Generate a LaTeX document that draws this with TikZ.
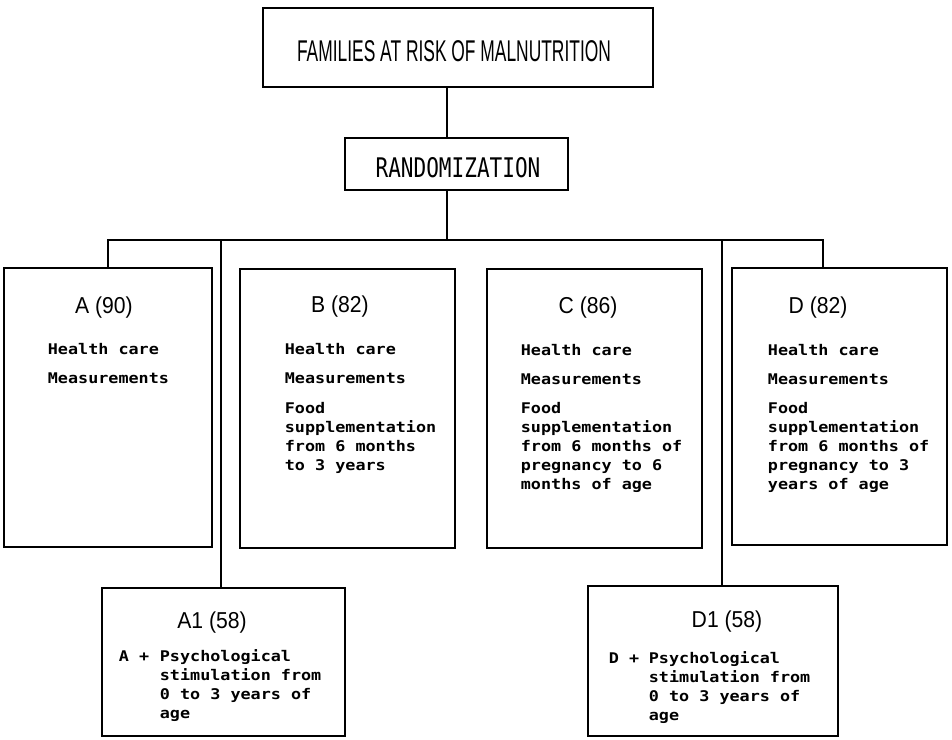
\documentclass[tikz,border=0pt]{standalone}
\usepackage{fontspec}
\newfontfamily\titlefont[FakeStretch=0.58]{Liberation Sans}
\newfontfamily\headfont[FakeStretch=0.92]{Liberation Sans}
\newfontfamily\randfont[FakeStretch=0.78]{DejaVu Sans Mono}
\newfontfamily\bodyfont[FakeStretch=1.14]{DejaVu Sans Mono}
\newcommand{\lines}[1]{\begin{tabular}[t]{@{}l@{}}#1\end{tabular}}
\begin{document}
\begin{tikzpicture}[x=1pt,y=-1pt,
  line width=1.8pt,
  box/.style={draw, line width=1.8pt, inner sep=0pt, outer sep=0pt, anchor=north west},
  head/.style={inner sep=0pt, anchor=base, font=\headfont\fontsize{23}{23}\selectfont},
  body/.style={inner sep=0pt, anchor=base west, font=\bodyfont\bfseries\fontsize{14.7}{19}\selectfont},
  conn/.style={draw, line width=1.8pt}]
\useasboundingbox (0,0) rectangle (952,739);
\fill[white] (0,0) rectangle (952,739);

% boxes
\node[box, minimum width=390pt, minimum height=79pt] (top) at (263,8) {};
\node[box, minimum width=223pt, minimum height=52pt] (rand) at (345,138) {};
\node[box, minimum width=208pt, minimum height=279pt] (boxA) at (4,268) {};
\node[box, minimum width=215pt, minimum height=279pt] (boxB) at (240,269) {};
\node[box, minimum width=215pt, minimum height=279pt] (boxC) at (487,269) {};
\node[box, minimum width=215pt, minimum height=277pt] (boxD) at (732,268) {};
\node[box, minimum width=243pt, minimum height=148pt] (boxA1) at (102,588) {};
\node[box, minimum width=250pt, minimum height=150pt] (boxD1) at (588,586) {};

% texts
\node[inner sep=0pt, anchor=base, font=\titlefont\fontsize{30}{30}\selectfont] (ttitle) at (454,61) {FAMILIES AT RISK OF MALNUTRITION};
\node[inner sep=0pt, anchor=base, font=\randfont\fontsize{27}{27}\selectfont] (trand) at (458,177) {RANDOMIZATION};

\node[head] (hA) at (104,313) {A (90)};
\node[head] (hB) at (340,312) {B (82)};
\node[head] (hC) at (588,313) {C (86)};
\node[head] (hD) at (818,313) {D (82)};
\node[head] (hA1) at (212,628) {A1 (58)};
\node[head] (hD1) at (727,627) {D1 (58)};

\node[body] (bA) at (47,354) {\lines{Health care\\[10pt]Measurements}};
\node[body] (bB) at (284,354) {\lines{Health care\\[10pt]Measurements\\[11pt]Food\\supplementation\\from 6 months\\to 3 years}};
\node[body] (bC) at (520,355) {\lines{Health care\\[10pt]Measurements\\[10pt]Food\\supplementation\\from 6 months of\\pregnancy to 6\\months of age}};
\node[body] (bD) at (767,355) {\lines{Health care\\[10pt]Measurements\\[10pt]Food\\supplementation\\from 6 months of\\pregnancy to 3\\years of age}};

\node[body] (pA1) at (118,661) {A +};
\node[body] (tA1) at (159,661) {\lines{Psychological\\stimulation from\\0 to 3 years of\\age}};
\node[body] (pD1) at (608,663) {D +};
\node[body] (tD1) at (648,663) {\lines{Psychological\\stimulation from\\0 to 3 years of\\age}};

% connectors
\coordinate (cx) at (447,0);
\coordinate (bus) at (447,240);
\coordinate (ja) at (108,240);
\coordinate (jd) at (823,240);
\coordinate (jl) at (221,240);
\coordinate (jr) at (722,240);
\draw[conn] (top.south -| cx) -- (rand.north -| cx);
\draw[conn] (rand.south -| bus) -- (bus);
\draw[conn] (boxA.north -| ja) -- (ja) -- (jd) -- (boxD.north -| jd);
\draw[conn] (jl) -- (boxA1.north -| jl);
\draw[conn] (jr) -- (boxD1.north -| jr);
\end{tikzpicture}
\end{document}
